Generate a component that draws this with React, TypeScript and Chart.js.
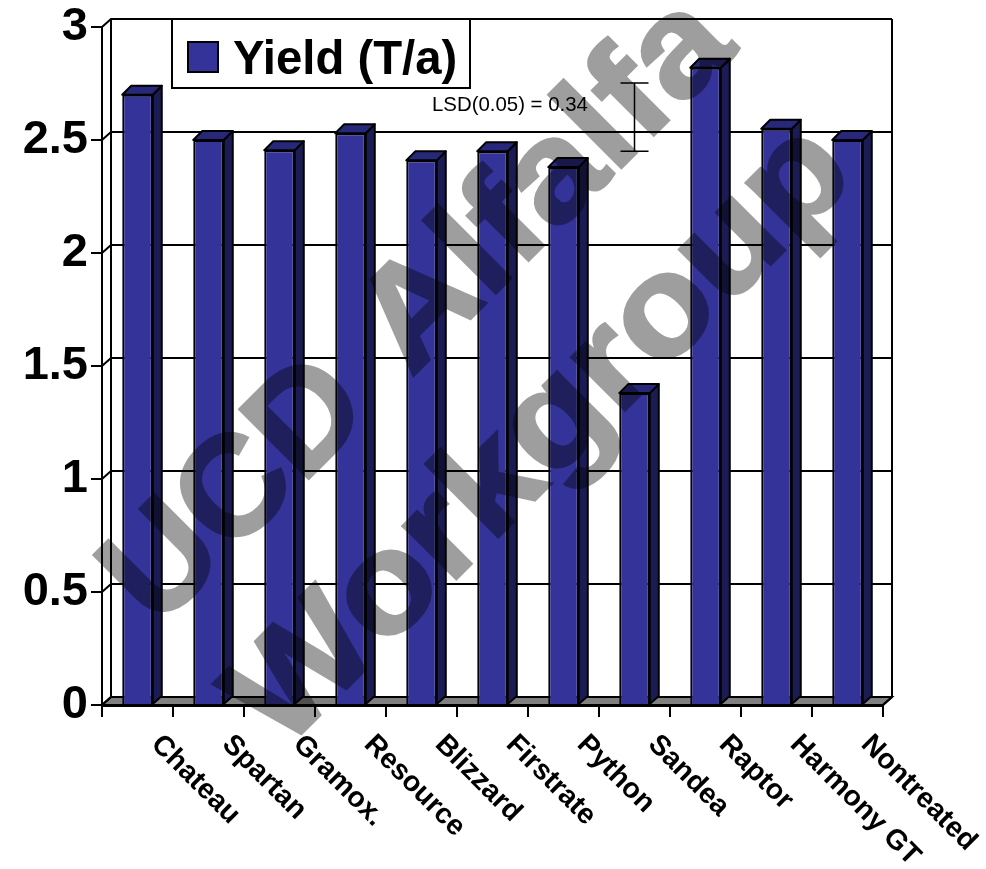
import React, { useEffect, useRef } from "react";
import { Chart, registerables } from "chart.js";

Chart.register(...registerables);

const categories = ["Chateau", "Spartan", "Gramox.", "Resource", "Blizzard", "Firstrate", "Python", "Sandea", "Raptor", "Harmony GT", "Nontreated"];
const yieldValues = [2.7, 2.5, 2.455, 2.53, 2.41, 2.45, 2.38, 1.38, 2.82, 2.55, 2.5];
const seriesName = "Yield (T/a)";
const yTicks = [0, 0.5, 1, 1.5, 2, 2.5, 3];
const lsdLabel = "LSD(0.05) = 0.34";
const lsdCategory = "Sandea";
const lsdRange = [2.45, 2.752];
const watermarkWords = ["UCD", "Alfalfa", "Workgroup"];

const FONT = "Arial, 'Liberation Sans', sans-serif";
const BLUE = "#333399";
const SIDE = "#1c1c54";
const TOP = "#28287a";
const DX = 9;
const DY = -8;

function drawWatermark(ctx: any) {
  const c = ctx.canvas;
  const off = document.createElement("canvas");
  off.width = c.width;
  off.height = c.height;
  const o: any = off.getContext("2d");
  o.fillStyle = "#000";
  o.strokeStyle = "#000";
  o.lineWidth = 3;
  o.lineJoin = "miter";
  o.font = `bold 142px ${FONT}`;
  o.textAlign = "left";
  o.textBaseline = "alphabetic";
  const place = (text: string, x: number, y: number, sx: number) => {
    o.save();
    o.translate(x, y);
    o.rotate((-45 * Math.PI) / 180);
    o.scale(sx, 1);
    o.fillText(text, 0, 0);
    o.strokeText(text, 0, 0);
    o.restore();
  };
  place(watermarkWords[0], 157, 630, 1.0);
  place(watermarkWords[1], 411, 378, 1.07);
  place(watermarkWords[2], 282, 753, 1.08);
  ctx.save();
  ctx.setTransform(1, 0, 0, 1, 0, 0);
  ctx.globalAlpha = 0.38;
  ctx.drawImage(off, 0, 0);
  ctx.restore();
}

const threeD = {
  id: "threeD",
  beforeDatasetsDraw(chart: any) {
    const { ctx, chartArea: a, scales } = chart;
    ctx.save();
    ctx.fillStyle = "#808080";
    ctx.beginPath();
    ctx.moveTo(a.left, a.bottom);
    ctx.lineTo(a.right, a.bottom);
    ctx.lineTo(a.right + DX, a.bottom + DY);
    ctx.lineTo(a.left + DX, a.bottom + DY);
    ctx.closePath();
    ctx.fill();
    ctx.strokeStyle = "#000";
    ctx.lineWidth = 2;
    ctx.stroke();
    ctx.beginPath();
    for (const v of yTicks) {
      const y = scales.y.getPixelForValue(v);
      ctx.moveTo(a.left, y);
      ctx.lineTo(a.left + DX, y + DY);
      ctx.lineTo(a.right + DX, y + DY);
    }
    ctx.moveTo(a.left + DX, a.top + DY);
    ctx.lineTo(a.left + DX, a.bottom + DY);
    ctx.moveTo(a.right + DX, a.top + DY);
    ctx.lineTo(a.right + DX, a.bottom + DY);
    ctx.lineTo(a.right, a.bottom);
    ctx.stroke();
    ctx.restore();
  },
  afterDatasetsDraw(chart: any) {
    const { ctx, scales } = chart;
    const meta = chart.getDatasetMeta(0);
    ctx.save();
    ctx.strokeStyle = "#000";
    ctx.lineWidth = 2;
    ctx.lineJoin = "round";
    for (const bar of meta.data) {
      const l = bar.x - bar.width / 2;
      const r = bar.x + bar.width / 2;
      const t = bar.y;
      const b = bar.base;
      ctx.fillStyle = SIDE;
      ctx.beginPath();
      ctx.moveTo(r, t);
      ctx.lineTo(r + DX, t + DY - 1);
      ctx.lineTo(r + DX, b + DY);
      ctx.lineTo(r, b);
      ctx.closePath();
      ctx.fill();
      ctx.stroke();
      ctx.fillStyle = TOP;
      ctx.beginPath();
      ctx.moveTo(l, t);
      ctx.lineTo(l + DX, t + DY - 1);
      ctx.lineTo(r + DX, t + DY - 1);
      ctx.lineTo(r, t);
      ctx.closePath();
      ctx.fill();
      ctx.stroke();
    }
    ctx.restore();

    // Legend box
    ctx.save();
    ctx.fillStyle = "#fff";
    ctx.strokeStyle = "#000";
    ctx.lineWidth = 2;
    ctx.fillRect(172, 19, 298, 69);
    ctx.strokeRect(172, 19, 298, 69);
    ctx.fillStyle = BLUE;
    ctx.fillRect(188, 42, 30, 30);
    ctx.strokeRect(188, 42, 30, 30);
    ctx.fillStyle = "#000";
    ctx.font = `bold 47.3px ${FONT}`;
    ctx.textAlign = "left";
    ctx.textBaseline = "alphabetic";
    ctx.fillText(chart.data.datasets[0].label, 233, 74);
    ctx.restore();

    // LSD marker
    const x = scales.x.getPixelForValue(categories.indexOf(lsdCategory));
    const y1 = scales.y.getPixelForValue(lsdRange[1]);
    const y0 = scales.y.getPixelForValue(lsdRange[0]);
    ctx.save();
    ctx.strokeStyle = "#000";
    ctx.lineWidth = 1.5;
    ctx.beginPath();
    ctx.moveTo(x, y1);
    ctx.lineTo(x, y0);
    ctx.moveTo(x - 14, y1);
    ctx.lineTo(x + 14, y1);
    ctx.moveTo(x - 14, y0);
    ctx.lineTo(x + 14, y0);
    ctx.stroke();
    ctx.fillStyle = "#000";
    ctx.font = `20.4px ${FONT}`;
    ctx.textAlign = "left";
    ctx.textBaseline = "alphabetic";
    ctx.fillText(lsdLabel, 432, 111);
    ctx.restore();

    // Category labels, start-anchored and slanted down to the right
    ctx.save();
    ctx.fillStyle = "#000";
    ctx.font = `bold 28.5px ${FONT}`;
    ctx.textAlign = "left";
    ctx.textBaseline = "middle";
    categories.forEach((name, i) => {
      ctx.save();
      ctx.translate(scales.x.getPixelForValue(i) + 18, 740);
      ctx.rotate((45 * Math.PI) / 180);
      ctx.fillText(name, 0, 0);
      ctx.restore();
    });
    ctx.restore();

    drawWatermark(ctx);
  },
};

export default function App() {
  const ref = useRef<HTMLCanvasElement>(null);
  useEffect(() => {
    const chart = new Chart(ref.current!, {
      type: "bar",
      data: {
        labels: categories,
        datasets: [
          {
            label: seriesName,
            data: yieldValues,
            backgroundColor: BLUE,
            borderColor: "#000",
            borderWidth: 2,
            barPercentage: 0.43,
            categoryPercentage: 1,
          },
        ],
      },
      options: {
        responsive: false,
        animation: false,
        layout: { padding: { left: 0, right: 103, top: 0, bottom: 0 } },
        plugins: { legend: { display: false }, tooltip: { enabled: false }, title: { display: false } },
        scales: {
          x: {
            afterFit(s: any) { s.height = 164; s.paddingLeft = 0; s.paddingRight = 0; },
            grid: { drawOnChartArea: false, color: "#000", lineWidth: 2, tickLength: 12, offset: true },
            border: { display: true, color: "#000", width: 3 },
            ticks: { display: false },
          },
          y: {
            min: 0,
            max: 3,
            afterFit(s: any) { s.width = 102; s.paddingTop = 27; s.paddingBottom = 0; },
            afterBuildTicks(s: any) { s.ticks = yTicks.map((value) => ({ value })); },
            grid: { drawOnChartArea: false, color: "#000", lineWidth: 2, tickLength: 11 },
            border: { display: true, color: "#000", width: 2 },
            ticks: {
              color: "#000",
              padding: 3,
              autoSkip: false,
              font: { family: FONT, size: 47, weight: "bold" },
              callback: (v: any) => String(v),
            },
          },
        },
      },
      plugins: [threeD],
    } as any);
    return () => chart.destroy();
  }, []);
  return (
    <div style={{ position: "absolute", left: 0, top: 0, width: 986, height: 869, background: "#fff" }}>
      <canvas ref={ref} width={986} height={869} style={{ display: "block" }} />
    </div>
  );
}
